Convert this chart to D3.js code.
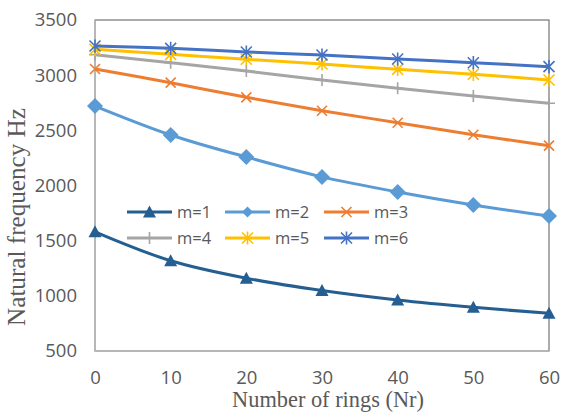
<!DOCTYPE html>
<html><head><meta charset="utf-8">
<script src="https://cdn.jsdelivr.net/npm/d3@7"></script>
<style>body{margin:0;background:#fff}</style>
</head><body><svg id="c" width="564" height="412"></svg>
<script>
const rings = [0, 10, 20, 30, 40, 50, 60];
const m1 = [1580, 1318, 1160, 1048, 962, 896, 842];
const m2 = [2720, 2458, 2258, 2078, 1941, 1823, 1723];
const m3 = [3056, 2932, 2799, 2678, 2569, 2460, 2361];
const m4 = [3185, 3113, 3038, 2956, 2881, 2811, 2745];
const m5 = [3234, 3189, 3144, 3101, 3053, 3008, 2956];
const m6 = [3264, 3243, 3210, 3183, 3146, 3113, 3077];
const seriesNames = ["m=1","m=2","m=3","m=4","m=5","m=6"];
const yTicks = [500,1000,1500,2000,2500,3000,3500];
const xTicks = [0,10,20,30,40,50,60];

const colors = ["#255E91","#5B9BD5","#ED7D31","#A5A5A5","#FFC000","#4472C4"];
const markers = ["triangle","diamond","x","plus","star","star"];
const data = [m1,m2,m3,m4,m5,m6];
const tickFont = "'Open Sans','Liberation Sans',sans-serif";

const svg = d3.select("#c");
const x = d3.scaleLinear().domain([0,60]).range([95,549]);
const y = d3.scaleLinear().domain([500,3500]).range([351,20]);

// plot frame
svg.append("rect").attr("x",95).attr("y",20).attr("width",454).attr("height",331)
  .attr("fill","none").attr("stroke","#595959").attr("stroke-width",1);
svg.append("line").attr("x1",95).attr("x2",95).attr("y1",20).attr("y2",351).attr("stroke","#BFBFBF").attr("stroke-width",1.2);
svg.append("line").attr("x1",95).attr("x2",549).attr("y1",351).attr("y2",351).attr("stroke","#BFBFBF").attr("stroke-width",1.2);

const yAxis = svg.append("g").attr("transform","translate(95,0)")
  .call(d3.axisLeft(y).tickValues(yTicks).tickSize(0).tickPadding(18).tickFormat(d3.format("d")));
const xAxis = svg.append("g").attr("transform","translate(0,351)")
  .call(d3.axisBottom(x).tickValues(xTicks).tickSize(0).tickPadding(20));
[yAxis,xAxis].forEach(a=>{
  a.select(".domain").remove();
  a.selectAll("text").attr("fill","#595959").style("font-family",tickFont).style("font-size","18.5px");
});

function fitText(t, w){
  const L = t.node().getComputedTextLength();
  t.style("font-size", (20*w/L).toFixed(2)+"px");
}
const yt = svg.append("text").attr("transform","translate(25,217) rotate(-90)").attr("text-anchor","middle")
  .style("font-family","'Liberation Serif',serif").style("font-size","20px").attr("fill","#595959")
  .text("Natural frequency Hz");
fitText(yt, 218);
const xt = svg.append("text").attr("x",328).attr("y",407).attr("text-anchor","middle")
  .style("font-family","'Liberation Serif',serif").style("font-size","20px").attr("fill","#595959")
  .text("Number of rings (Nr)");
fitText(xt, 192);

function drawMarker(g, type, color, cx, cy, big){
  if(type==="triangle"){
    const s=6.5;
    g.append("path").attr("d",`M${cx},${cy-s}L${cx+s},${cy+s*0.85}L${cx-s},${cy+s*0.85}Z`).attr("fill",color);
  } else if(type==="diamond"){
    const s=big?8:5.5;
    g.append("path").attr("d",`M${cx},${cy-s}L${cx+s},${cy}L${cx},${cy+s}L${cx-s},${cy}Z`).attr("fill",color);
  } else if(type==="x"){
    const s=5;
    g.append("path").attr("d",`M${cx-s},${cy-s}L${cx+s},${cy+s}M${cx-s},${cy+s}L${cx+s},${cy-s}`).attr("stroke",color).attr("stroke-width",1.6);
  } else if(type==="plus"){
    const s=6;
    g.append("path").attr("d",`M${cx-s},${cy}L${cx+s},${cy}M${cx},${cy-s}L${cx},${cy+s}`).attr("stroke",color).attr("stroke-width",1.6);
  } else if(type==="star"){
    const s=5.5;
    g.append("path").attr("d",`M${cx-s},${cy-s}L${cx+s},${cy+s}M${cx-s},${cy+s}L${cx+s},${cy-s}M${cx},${cy-s*1.2}L${cx},${cy+s*1.2}`).attr("stroke",color).attr("stroke-width",1.6);
  }
}

const line = d3.line().x((d,i)=>x(rings[i])).y(d=>y(d)).curve(d3.curveCatmullRom.alpha(0.5));
data.forEach((vals,k)=>{
  const g = svg.append("g");
  g.append("path").datum(vals).attr("d",line).attr("fill","none").attr("stroke",colors[k]).attr("stroke-width",3);
  vals.forEach((v,i)=>drawMarker(g, markers[k], colors[k], x(rings[i]), y(v), true));
});

// legend
const legX = [127, 225, 324], legY = [212, 238];
seriesNames.forEach((n,k)=>{
  const lx = legX[k%3], ly = legY[Math.floor(k/3)];
  const g = svg.append("g");
  g.append("line").attr("x1",lx).attr("x2",lx+45).attr("y1",ly).attr("y2",ly).attr("stroke",colors[k]).attr("stroke-width",3);
  drawMarker(g, markers[k], colors[k], lx+22.5, ly, false);
  g.append("text").attr("x",lx+50).attr("y",ly+6).attr("fill","#595959")
    .style("font-family",tickFont).style("font-size","16.5px").text(n);
});
</script></body></html>
